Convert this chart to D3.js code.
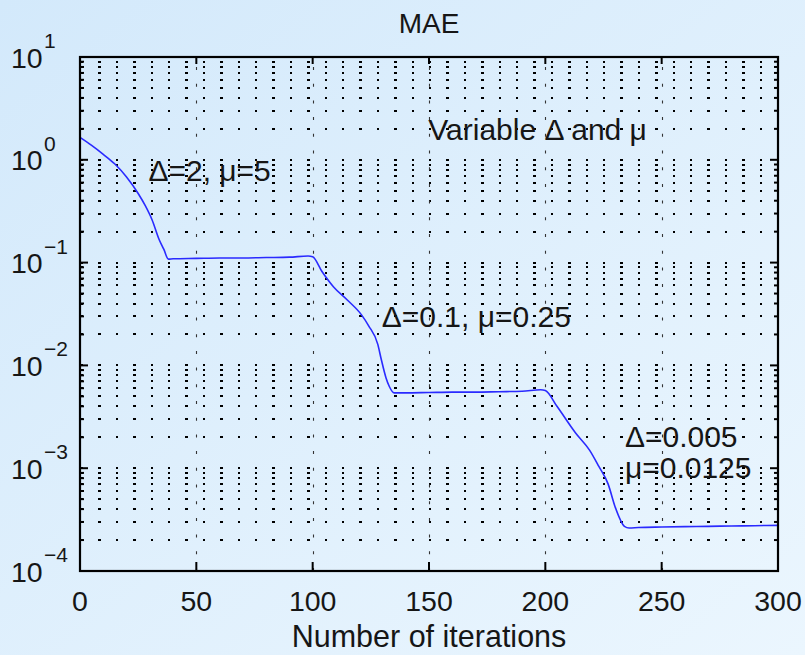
<!DOCTYPE html>
<html>
<head>
<meta charset="utf-8">
<script src="https://cdn.jsdelivr.net/npm/d3@7"></script>
<style>
  html, body { margin: 0; padding: 0; }
  body { width: 805px; height: 655px; overflow: hidden; }
  text { font-family: "Liberation Sans", Arial, Helvetica, sans-serif; fill: #161616; }
</style>
</head>
<body>
<div id="chart"></div>
<script>
// Chart size.
var chartWidth = 805;
var chartHeight = 655;

// Plot box, in pixels.
var box = { left: 80, right: 778, top: 57, bottom: 571 };

// Data: MAE per iteration.
var iterations = [0, 5, 10, 15, 20, 25, 28, 31, 34, 36, 38, 40, 50, 60, 70, 80, 90, 98,
  100, 104, 109, 115, 121, 124, 128, 129.5, 131.5, 133, 135, 140, 150, 160, 170, 180, 190, 198,
  200, 205, 213, 219, 223, 227, 230, 234, 236, 240, 250, 260, 270, 280, 290, 300];
var maeValues = [1.65, 1.38, 1.13, 0.91, 0.68, 0.47, 0.36, 0.26, 0.168, 0.135, 0.108, 0.109,
  0.110, 0.111, 0.111, 0.112, 0.113, 0.116,
  0.114, 0.082, 0.058, 0.043, 0.031, 0.0244, 0.016, 0.0114, 0.0076, 0.0062, 0.0054, 0.0054,
  0.00545, 0.0055, 0.0055, 0.00555, 0.0056, 0.0058,
  0.0057, 0.0040, 0.0022, 0.0015, 0.00104, 0.00070, 0.00042, 0.000272, 0.000262, 0.000265,
  0.000268, 0.00027, 0.000272, 0.000274, 0.000276, 0.000278];

// Axis ticks.
var xTicks = [0, 50, 100, 150, 200, 250, 300];
var yDecades = [-4, -3, -2, -1, 0, 1];
var yExponentLabels = ["\u22124", "\u22123", "\u22122", "\u22121", "0", "1"];

// Annotations: text, x position (iterations), baseline (MAE value).
var noteTexts = ["Variable \u0394 and \u03bc", "\u0394=2, \u03bc=5", "\u0394=0.1, \u03bc=0.25",
  "\u0394=0.005", "\u03bc=0.0125"];
var noteX = [149.7, 29.4, 129.7, 234.2, 234.2];
var noteY = [1.56, 0.62, 0.0237, 0.00162, 0.000804];

var titleText = "MAE";
var xLabelText = "Number of iterations";

var svg = d3.select("#chart").append("svg")
    .attr("width", chartWidth)
    .attr("height", chartHeight);

// Light blue page background.
var grad = svg.append("defs").append("linearGradient")
    .attr("id", "bg")
    .attr("x1", "0").attr("y1", "0")
    .attr("x2", "1").attr("y2", "1");
grad.append("stop").attr("offset", "0").attr("stop-color", "#d3e9fb");
grad.append("stop").attr("offset", "1").attr("stop-color", "#ebf6fe");

svg.append("rect")
    .attr("width", chartWidth)
    .attr("height", chartHeight)
    .attr("fill", "url(#bg)");

var x = d3.scaleLinear().domain([0, 300]).range([box.left, box.right]);
var y = d3.scaleLog().domain([1e-4, 10]).range([box.bottom, box.top]);

// Every log tick: majors and the 2..9 minors.
var yAllTicks = y.ticks();
var yMinorTicks = yAllTicks.filter(function(v) {
  return Math.abs(Math.log10(v) - Math.round(Math.log10(v))) > 1e-9;
});

// Horizontal dotted grid, one line per log tick.
svg.append("g")
    .attr("shape-rendering", "crispEdges")
    .selectAll("line")
    .data(yAllTicks.filter(function(v) { return v < 10; }))
    .enter().append("line")
    .attr("x1", box.left + 1)
    .attr("x2", box.right)
    .attr("y1", function(d) { return Math.round(y(d)); })
    .attr("y2", function(d) { return Math.round(y(d)); })
    .attr("stroke", "#000")
    .attr("stroke-width", 2)
    .attr("stroke-dasharray", "2.4,15");

// Vertical sparse grid at the major x ticks.
svg.append("g")
    .selectAll("line")
    .data(xTicks.slice(1, -1))
    .enter().append("line")
    .attr("x1", function(d) { return Math.round(x(d)) + 0.5; })
    .attr("x2", function(d) { return Math.round(x(d)) + 0.5; })
    .attr("y1", box.bottom)
    .attr("y2", box.top)
    .attr("stroke", "#333")
    .attr("stroke-width", 1.1)
    .attr("stroke-dasharray", "3,13.7");

// The MAE curve.
var line = d3.line()
    .x(function(d, i) { return x(iterations[i]); })
    .y(function(d) { return y(d); })
    .curve(d3.curveMonotoneX);

svg.append("path")
    .datum(maeValues)
    .attr("d", line)
    .attr("fill", "none")
    .attr("stroke", "#2a2aff")
    .attr("stroke-width", 1.6);

// Ticks, drawn inside the box on all four sides.
var ticks = svg.append("g").attr("stroke", "#000").attr("stroke-width", 2);

ticks.selectAll(".xb").data(xTicks).enter().append("line")
    .attr("x1", function(d) { return x(d); }).attr("x2", function(d) { return x(d); })
    .attr("y1", box.bottom).attr("y2", box.bottom - 9);
ticks.selectAll(".xt").data(xTicks).enter().append("line")
    .attr("x1", function(d) { return x(d); }).attr("x2", function(d) { return x(d); })
    .attr("y1", box.top).attr("y2", box.top + 7);

var yMajors = yDecades.map(function(e) { return Math.pow(10, e); });
ticks.selectAll(".yl").data(yMajors).enter().append("line")
    .attr("x1", box.left).attr("x2", box.left + 8)
    .attr("y1", function(d) { return y(d); }).attr("y2", function(d) { return y(d); });
ticks.selectAll(".yr").data(yMajors).enter().append("line")
    .attr("x1", box.right).attr("x2", box.right - 8)
    .attr("y1", function(d) { return y(d); }).attr("y2", function(d) { return y(d); });
ticks.selectAll(".ylm").data(yMinorTicks).enter().append("line")
    .attr("x1", box.left).attr("x2", box.left + 4)
    .attr("y1", function(d) { return y(d); }).attr("y2", function(d) { return y(d); });
ticks.selectAll(".yrm").data(yMinorTicks).enter().append("line")
    .attr("x1", box.right).attr("x2", box.right - 4)
    .attr("y1", function(d) { return y(d); }).attr("y2", function(d) { return y(d); });

// Axes box.
svg.append("rect")
    .attr("x", box.left)
    .attr("y", box.top)
    .attr("width", box.right - box.left)
    .attr("height", box.bottom - box.top)
    .attr("fill", "none")
    .attr("stroke", "#000")
    .attr("stroke-width", 2.2);

// X tick labels.
svg.append("g")
    .selectAll("text")
    .data(xTicks)
    .enter().append("text")
    .attr("x", function(d) { return x(d); })
    .attr("y", 611)
    .attr("text-anchor", "middle")
    .style("font-size", "28.5px")
    .text(function(d) { return d; });

// Y tick labels as 10 with a raised exponent.
var yLab = svg.append("g")
    .selectAll("g")
    .data(yDecades)
    .enter().append("g")
    .attr("transform", function(d) { return "translate(11," + y(Math.pow(10, d)) + ")"; });

yLab.append("text")
    .attr("x", 0)
    .attr("y", 10.5)
    .style("font-size", "28.5px")
    .text("10");

yLab.append("text")
    .attr("x", 33)
    .attr("y", -9)
    .style("font-size", "21px")
    .text(function(d, i) { return yExponentLabels[i]; });

// Title and axis label.
svg.append("text")
    .attr("x", (box.left + box.right) / 2)
    .attr("y", 33)
    .attr("text-anchor", "middle")
    .style("font-size", "28px")
    .text(titleText);

svg.append("text")
    .attr("x", (box.left + box.right) / 2)
    .attr("y", 647)
    .attr("text-anchor", "middle")
    .style("font-size", "30.5px")
    .text(xLabelText);

// Annotations inside the plot.
svg.append("g")
    .selectAll("text")
    .data(noteTexts)
    .enter().append("text")
    .attr("x", function(d, i) { return x(noteX[i]); })
    .attr("y", function(d, i) { return y(noteY[i]); })
    .style("font-size", "30px")
    .text(function(d) { return d; });
</script>
</body>
</html>
